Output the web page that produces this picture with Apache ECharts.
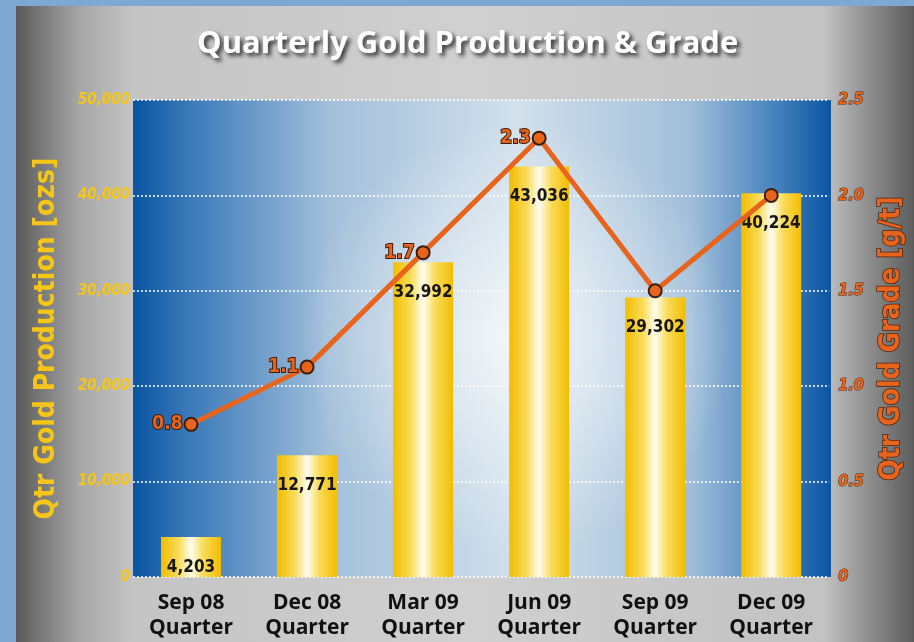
<!DOCTYPE html>
<html>
<head>
<meta charset="utf-8">
<title>Quarterly Gold Production & Grade</title>
<script src="https://cdn.jsdelivr.net/npm/echarts@6/dist/echarts.min.js"></script>
<style>
    html, body { margin: 0; padding: 0; background: #7ea8d2; }
    #chart { width: 914px; height: 642px; }
</style>
</head>
<body>
<div id="chart"></div>
<script>
    // values
    const quarters = ["Sep 08\nQuarter", "Dec 08\nQuarter", "Mar 09\nQuarter", "Jun 09\nQuarter", "Sep 09\nQuarter", "Dec 09\nQuarter"];
    const production = [4203, 12771, 32992, 43036, 29302, 40224];   // ozs
    const grade = [0.8, 1.1, 1.7, 2.3, 1.5, 2.0];                   // g/t
    const gradeLabelShown = [true, true, true, true, false, false];

    // canvas font shorthand: weight + stretch, so the condensed DejaVu face gets picked
    const NARROW = "'DejaVu Sans', sans-serif";
    const NARROW_BOLD = "bold condensed";
    const ORANGE = "#e8641c";
    const GOLD = "#f5c518";

    // plot area (pixels)
    const plot = { left: 133, top: 100, right: 831, bottom: 577 };

    const chart = echarts.init(document.getElementById("chart"));

    const hGrad = (stops) => new echarts.graphic.LinearGradient(0, 0, 1, 0, stops.map(s => ({ offset: s[0], color: s[1] })));

    chart.setOption({
        backgroundColor: "#7ea8d2",
        title: {
            text: "Quarterly Gold Production & Grade",
            left: 192,
            top: 24,
            textStyle: {
                fontFamily: "'Open Sans', sans-serif",
                fontWeight: 700,
                fontSize: 31,
                color: "#ffffff",
                textShadowColor: "rgba(0,0,0,0.75)",
                textShadowBlur: 4,
                textShadowOffsetX: 3,
                textShadowOffsetY: 3
            }
        },
        graphic: [
            {
                type: "rect", z: -10, silent: true,
                shape: { x: 16, y: 6, width: 898, height: 636 },
                style: { fill: hGrad([[0, "#5a5a5a"], [0.07, "#a6a6a6"], [0.13, "#c4c4c4"], [0.5, "#d0d0d0"], [0.9, "#c2c2c2"], [0.95, "#8e8e8e"], [1, "#5c5c5c"]]) }
            },
            {
                type: "rect", z: -9, silent: true,
                shape: { x: plot.left, y: plot.top, width: plot.right - plot.left, height: plot.bottom - plot.top },
                style: { fill: hGrad([[0, "#0a55a0"], [0.08, "#3a79b9"], [0.28, "#a2bfda"], [0.55, "#d2e0eb"], [0.8, "#a0bed9"], [0.93, "#3f7dbb"], [1, "#0a55a0"]]) }
            },
            {
                type: "rect", z: -8, silent: true,
                shape: { x: plot.left, y: plot.top, width: plot.right - plot.left, height: plot.bottom - plot.top },
                style: {
                    fill: new echarts.graphic.RadialGradient(0.55, 0.5, 0.45, [
                        { offset: 0, color: "rgba(255,255,255,0.75)" },
                        { offset: 1, color: "rgba(255,255,255,0)" }
                    ])
                }
            }
        ],
        grid: {
            left: plot.left,
            top: plot.top,
            right: 914 - plot.right,
            bottom: 642 - plot.bottom,
            containLabel: false
        },
        xAxis: {
            type: "category",
            data: quarters,
            axisLine: { show: false },
            axisTick: { show: false },
            axisLabel: {
                margin: 14,
                fontFamily: "'Open Sans', sans-serif",
                fontWeight: 700,
                fontSize: 21,
                lineHeight: 25,
                color: "#111111"
            }
        },
        yAxis: [
            {
                type: "value",
                min: 0, max: 50000, interval: 10000,
                name: "Qtr Gold Production [ozs]",
                nameLocation: "middle",
                nameRotate: 90,
                nameGap: 72,
                nameTextStyle: { fontFamily: NARROW, fontWeight: NARROW_BOLD, fontSize: 28, color: GOLD },
                axisLine: { show: false },
                axisTick: { show: false },
                axisLabel: {
                    margin: 3,
                    fontFamily: NARROW,
                    fontStyle: "italic",
                    fontWeight: NARROW_BOLD,
                    fontSize: 15,
                    color: GOLD,
                    formatter: v => v.toLocaleString("en-US")
                },
                splitLine: { show: true, lineStyle: { color: "#ffffff", type: [2, 2], width: 1.5 } }
            },
            {
                type: "value",
                min: 0, max: 2.5, interval: 0.5,
                name: "Qtr Gold Grade [g/t]",
                nameLocation: "middle",
                nameRotate: 90,
                nameGap: 48,
                nameTextStyle: {
                    fontFamily: NARROW, fontWeight: NARROW_BOLD, fontSize: 28, color: ORANGE,
                    textBorderColor: "#4a2410", textBorderWidth: 1.5
                },
                axisLine: { show: false },
                axisTick: { show: false },
                splitLine: { show: false },
                axisLabel: {
                    margin: 9,
                    fontFamily: NARROW,
                    fontStyle: "italic",
                    fontWeight: NARROW_BOLD,
                    fontSize: 16,
                    color: ORANGE,
                    textBorderColor: "#4a2410",
                    textBorderWidth: 1,
                    formatter: v => v === 0 ? "0" : v.toFixed(1)
                }
            }
        ],
        series: [
            {
                name: "Production",
                type: "bar",
                yAxisIndex: 0,
                barWidth: 60,
                data: production,
                itemStyle: {
                    color: hGrad([[0, "#f2bd00"], [0.3, "#f9dc5a"], [0.5, "#fffdf2"], [0.7, "#f9dc5a"], [1, "#f2bd00"]])
                },
                label: {
                    show: true,
                    position: "insideTop",
                    distance: 22,
                    fontFamily: NARROW,
                    fontWeight: NARROW_BOLD,
                    fontSize: 17,
                    color: "#161616",
                    formatter: p => p.value.toLocaleString("en-US")
                },
                z: 2
            },
            {
                name: "Grade",
                type: "line",
                yAxisIndex: 1,
                data: grade.map((v, i) => ({
                    value: v,
                    label: { show: gradeLabelShown[i] }
                })),
                symbol: "circle",
                symbolSize: 13,
                lineStyle: { color: ORANGE, width: 5 },
                itemStyle: { color: ORANGE, borderColor: "#3a1e0e", borderWidth: 2 },
                label: {
                    position: "left",
                    distance: 1,
                    fontFamily: NARROW,
                    fontWeight: NARROW_BOLD,
                    fontSize: 19,
                    color: ORANGE,
                    textBorderColor: "#3a1e0e",
                    textBorderWidth: 2,
                    formatter: p => p.value.toFixed(1)
                },
                z: 3
            }
        ]
    });
</script>
</body>
</html>
